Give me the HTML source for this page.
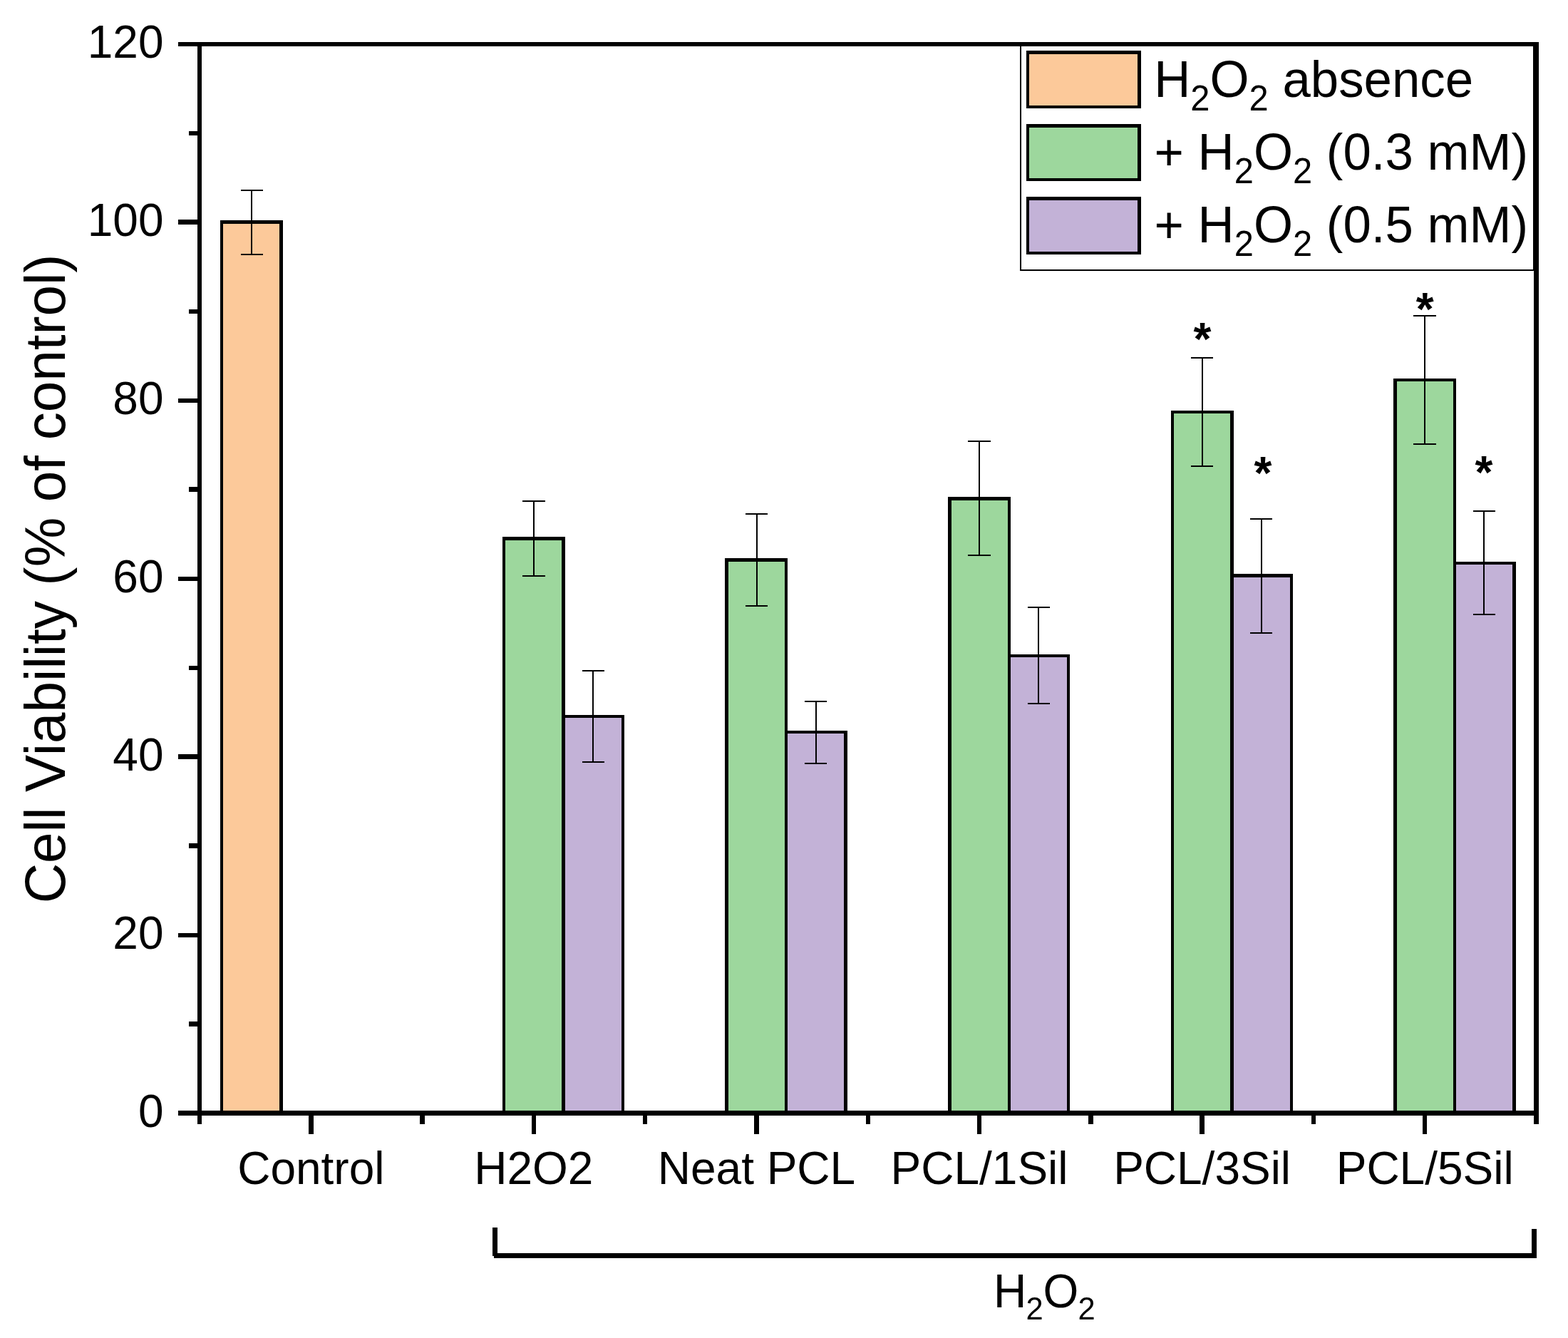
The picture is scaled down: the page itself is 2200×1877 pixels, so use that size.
<!DOCTYPE html>
<html lang="en"><head><meta charset="utf-8"><title>Cell Viability</title>
<style>
html,body{margin:0;padding:0;background:#fff;}
body{width:2200px;height:1877px;overflow:hidden;}
svg{display:block;}
text{font-family:"Liberation Sans",sans-serif;fill:#000;}
.t{font-size:64px;}
.l{font-size:70.8px;}
.y{font-size:80px;}
.s{font-size:64px;font-weight:bold;}
</style></head><body>
<svg width="2200" height="1877" viewBox="0 0 2200 1877" shape-rendering="crispEdges">
<rect x="0" y="0" width="2200" height="1877" fill="#fff"/>
<g id="bars">
<rect x="309" y="309" width="88" height="1251" fill="#000"/>
<rect x="313" y="314" width="79" height="1244" fill="#FCC99A"/>
<rect x="705" y="753" width="88" height="807" fill="#000"/>
<rect x="709" y="758" width="79" height="800" fill="#9DD79D"/>
<rect x="788" y="1003" width="88" height="557" fill="#000"/>
<rect x="793" y="1007" width="79" height="551" fill="#C3B2D7"/>
<rect x="1017" y="783" width="88" height="777" fill="#000"/>
<rect x="1022" y="788" width="79" height="770" fill="#9DD79D"/>
<rect x="1101" y="1025" width="88" height="535" fill="#000"/>
<rect x="1105" y="1029" width="79" height="529" fill="#C3B2D7"/>
<rect x="1330" y="697" width="88" height="863" fill="#000"/>
<rect x="1335" y="702" width="79" height="856" fill="#9DD79D"/>
<rect x="1414" y="918" width="87" height="642" fill="#000"/>
<rect x="1418" y="922" width="79" height="636" fill="#C3B2D7"/>
<rect x="1643" y="576" width="88" height="984" fill="#000"/>
<rect x="1647" y="580" width="79" height="978" fill="#9DD79D"/>
<rect x="1726" y="805" width="88" height="755" fill="#000"/>
<rect x="1731" y="810" width="79" height="748" fill="#C3B2D7"/>
<rect x="1955" y="531" width="88" height="1029" fill="#000"/>
<rect x="1960" y="535" width="79" height="1023" fill="#9DD79D"/>
<rect x="2039" y="788" width="88" height="772" fill="#000"/>
<rect x="2043" y="792" width="79" height="766" fill="#C3B2D7"/>
</g>
<g id="errs" fill="#000">
<rect x="352" y="267" width="2" height="90"/>
<rect x="338" y="266" width="31" height="2"/>
<rect x="338" y="356" width="31" height="2"/>
<rect x="748" y="703" width="2" height="105"/>
<rect x="733" y="702" width="32" height="2"/>
<rect x="733" y="807" width="32" height="2"/>
<rect x="831" y="941" width="2" height="128"/>
<rect x="817" y="940" width="31" height="2"/>
<rect x="817" y="1068" width="31" height="2"/>
<rect x="1061" y="721" width="2" height="129"/>
<rect x="1046" y="720" width="31" height="2"/>
<rect x="1046" y="849" width="31" height="2"/>
<rect x="1144" y="984" width="2" height="87"/>
<rect x="1129" y="983" width="31" height="2"/>
<rect x="1129" y="1070" width="31" height="2"/>
<rect x="1373" y="619" width="2" height="160"/>
<rect x="1358" y="618" width="32" height="2"/>
<rect x="1358" y="778" width="32" height="2"/>
<rect x="1456" y="852" width="2" height="135"/>
<rect x="1442" y="851" width="31" height="2"/>
<rect x="1442" y="986" width="31" height="2"/>
<rect x="1686" y="502" width="2" height="152"/>
<rect x="1671" y="501" width="31" height="2"/>
<rect x="1671" y="653" width="31" height="2"/>
<rect x="1769" y="728" width="2" height="160"/>
<rect x="1754" y="727" width="31" height="2"/>
<rect x="1754" y="887" width="31" height="2"/>
<rect x="1998" y="443" width="2" height="180"/>
<rect x="1983" y="442" width="32" height="2"/>
<rect x="1983" y="622" width="32" height="2"/>
<rect x="2081" y="717" width="2" height="145"/>
<rect x="2067" y="716" width="31" height="2"/>
<rect x="2067" y="861" width="31" height="2"/>
</g>
<g id="frame" fill="#000">
<rect x="277" y="59" width="6" height="1518"/>
<rect x="277" y="59" width="1882" height="6"/>
<rect x="2152" y="59" width="7" height="1518"/>
<rect x="277" y="1558" width="1882" height="7"/>
<rect x="250" y="59" width="30" height="6"/>
<rect x="265" y="184" width="15" height="6"/>
<rect x="250" y="308" width="30" height="7"/>
<rect x="265" y="434" width="15" height="6"/>
<rect x="250" y="559" width="30" height="6"/>
<rect x="265" y="683" width="15" height="7"/>
<rect x="250" y="809" width="30" height="6"/>
<rect x="265" y="934" width="15" height="6"/>
<rect x="250" y="1058" width="30" height="7"/>
<rect x="265" y="1183" width="15" height="7"/>
<rect x="250" y="1309" width="30" height="6"/>
<rect x="265" y="1433" width="15" height="7"/>
<rect x="250" y="1558" width="30" height="7"/>
<rect x="433" y="1558" width="7" height="33"/>
<rect x="589" y="1558" width="7" height="19"/>
<rect x="746" y="1558" width="6" height="33"/>
<rect x="902" y="1558" width="6" height="19"/>
<rect x="1058" y="1558" width="7" height="33"/>
<rect x="1215" y="1558" width="6" height="19"/>
<rect x="1371" y="1558" width="6" height="33"/>
<rect x="1527" y="1558" width="7" height="19"/>
<rect x="1683" y="1558" width="7" height="33"/>
<rect x="1840" y="1558" width="6" height="19"/>
<rect x="1996" y="1558" width="6" height="33"/>
</g>
<g id="ylabels">
<text class="t" transform="translate(229.5 1580.5) scale(1 1.025)" text-anchor="end">0</text>
<text class="t" transform="translate(229.5 1330.58) scale(1 1.025)" text-anchor="end">20</text>
<text class="t" transform="translate(229.5 1080.66) scale(1 1.025)" text-anchor="end">40</text>
<text class="t" transform="translate(229.5 830.74) scale(1 1.025)" text-anchor="end">60</text>
<text class="t" transform="translate(229.5 580.82) scale(1 1.025)" text-anchor="end">80</text>
<text class="t" transform="translate(229.5 330.9) scale(1 1.025)" text-anchor="end">100</text>
<text class="t" transform="translate(229.5 80.98) scale(1 1.025)" text-anchor="end">120</text>
</g>
<g id="xlabels">
<text class="t" transform="translate(436.292 1661) scale(1 1.02)" text-anchor="middle">Control</text>
<text class="t" transform="translate(748.875 1661) scale(1 1.02)" text-anchor="middle">H2O2</text>
<text class="t" transform="translate(1061.458 1661) scale(1 1.02)" text-anchor="middle">Neat PCL</text>
<text class="t" transform="translate(1374.042 1661) scale(1 1.02)" text-anchor="middle">PCL/1Sil</text>
<text class="t" transform="translate(1686.625 1661) scale(1 1.02)" text-anchor="middle">PCL/3Sil</text>
<text class="t" transform="translate(1999.208 1661) scale(1 1.02)" text-anchor="middle">PCL/5Sil</text>
</g>
<text class="y" transform="translate(91 812) rotate(-90) scale(0.977 1)" text-anchor="middle">Cell Viability (% of control)</text>
<g id="legend">
<rect x="1431" y="62" width="722" height="318" fill="#000"/>
<rect x="1433" y="65" width="718" height="313" fill="#fff"/>
<rect x="1440" y="71" width="161" height="81" fill="#000"/>
<rect x="1444" y="76" width="152" height="72" fill="#FCC99A"/>
<rect x="1440" y="174" width="161" height="80" fill="#000"/>
<rect x="1444" y="179" width="152" height="71" fill="#9DD79D"/>
<rect x="1440" y="276" width="161" height="81" fill="#000"/>
<rect x="1444" y="281" width="152" height="72" fill="#C3B2D7"/>
<text class="l" transform="translate(1619.2 136) scale(1 1.03)">H<tspan font-size="48.852" dy="18.408">2</tspan><tspan dy="-18.408">O</tspan><tspan font-size="48.852" dy="18.408">2</tspan><tspan dy="-18.408"> absence</tspan></text>
<text class="l" transform="translate(1619.6 238) scale(1 1.03)">+ H<tspan font-size="48.852" dy="18.408">2</tspan><tspan dy="-18.408">O</tspan><tspan font-size="48.852" dy="18.408">2</tspan><tspan dy="-18.408"> (0.3 mM)</tspan></text>
<text class="l" transform="translate(1619.6 340) scale(1 1.03)">+ H<tspan font-size="48.852" dy="18.408">2</tspan><tspan dy="-18.408">O</tspan><tspan font-size="48.852" dy="18.408">2</tspan><tspan dy="-18.408"> (0.5 mM)</tspan></text>
</g>
<g id="stars">
<text class="s" transform="translate(1687 498.3)" text-anchor="middle">*</text>
<text class="s" transform="translate(1772 686.4)" text-anchor="middle">*</text>
<text class="s" transform="translate(1999.2 456)" text-anchor="middle">*</text>
<text class="s" transform="translate(2082 685.3)" text-anchor="middle">*</text>
</g>
<g id="bracket" fill="#000">
<rect x="693" y="1758" width="1463" height="7"/>
<rect x="691" y="1722" width="7" height="40"/>
<rect x="2149" y="1724" width="7" height="41"/>
</g>
<text class="t" transform="translate(1394 1834) scale(1 1.03)">H<tspan font-size="43.52" dy="16.512" dx="-0.8">2</tspan><tspan dy="-16.512">O</tspan><tspan font-size="43.52" dy="16.512" dx="-0.8">2</tspan></text>
</svg>
</body></html>
